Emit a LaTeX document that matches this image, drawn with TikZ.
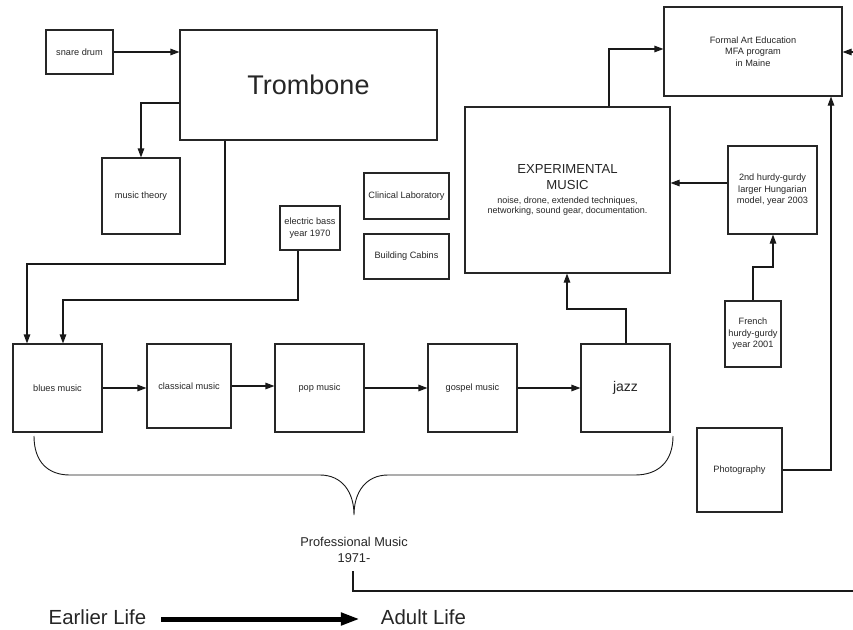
\documentclass[tikz,border=0pt]{standalone}
\usepackage{fontspec}
\setmainfont{Liberation Sans}
\usetikzlibrary{arrows.meta,calc}
\begin{document}
\begin{tikzpicture}[x=1pt,y=-1pt,
  box/.style={draw=black!85, line width=1.1pt, inner sep=0pt, align=center,
    text=black!85, font=\fontsize{9.2}{11.5}\selectfont},
  conn/.style={draw=black!90, line width=1.1pt},
  arr/.style={conn, -{Triangle[length=9pt,width=6.5pt]}},
  lbl/.style={inner sep=0pt, align=center, text=black!85}
]
\useasboundingbox (0,0) rectangle (853,629);
\clip (0,0) rectangle (853,629);
\fill[white] (0,0) rectangle (853,629);

% boxes
\node[box, minimum width=67pt, minimum height=44pt] (snare) at (79.5,52) {snare drum};
\node[box, minimum width=257pt, minimum height=110pt, font=\fontsize{27}{32}\selectfont] (trombone) at (308.5,85) {Trombone};
\node[box, minimum width=78pt, minimum height=76pt] (theory) at (141,196) {music theory};
\node[box, minimum width=60pt, minimum height=44pt] (ebass) at (310,228) {electric bass\\year 1970};
\node[box, minimum width=85pt, minimum height=46pt] (clinical) at (406.5,196) {Clinical Laboratory};
\node[box, minimum width=85pt, minimum height=45pt] (cabins) at (406.5,256.5) {Building Cabins};
\node[box, minimum width=89pt, minimum height=88pt] (blues) at (57.5,388) {blues music};
\node[box, minimum width=84pt, minimum height=84pt] (classical) at (189,386) {classical music};
\node[box, minimum width=89pt, minimum height=88pt] (pop) at (319.5,388) {pop music};
\node[box, minimum width=89pt, minimum height=88pt] (gospel) at (472.5,388) {gospel music};
\node[box, minimum width=89pt, minimum height=88pt, font=\fontsize{14}{16}\selectfont] (jazz) at (625.5,388) {jazz};
\node[box, minimum width=205pt, minimum height=166pt, font=\fontsize{9}{10.7}\selectfont] (exp) at (567.5,190)
  {\fontsize{13.1}{15}\selectfont EXPERIMENTAL\\[5.5pt]\fontsize{13.1}{15}\selectfont MUSIC\\[3pt]noise, drone, extended techniques,\\networking, sound gear, documentation.};
\node[box, minimum width=178pt, minimum height=89pt] (formal) at (753,51.5) {Formal Art Education\\MFA program\\in Maine};
\node[box, minimum width=89pt, minimum height=88pt] (hurdy) at (772.5,190) {2nd hurdy-gurdy\\larger Hungarian\\model, year 2003};
\node[box, minimum width=56pt, minimum height=66pt] (french) at (753,334) {French\\hurdy-gurdy\\year 2001};
\node[box, minimum width=85pt, minimum height=84pt] (photo) at (739.5,470) {Photography};

% labels
\node[lbl, font=\fontsize{12.8}{16}\selectfont] (pm) at (354,550) {Professional Music\\1971-};
\node[lbl, font=\fontsize{20.4}{24}\selectfont] (earlier) at (97.5,617) {Earlier Life};
\node[lbl, font=\fontsize{20.4}{24}\selectfont] (adult) at (423.5,617) {Adult Life};
\coordinate (pmline) at (353,571);

% connectors
\draw[arr] (snare.east) -- (snare.east -| trombone.west);
\draw[arr] ([yshift=-18pt]trombone.west) -| (theory.north);
\draw[arr] (225,0 |- trombone.south) |- (27,264) -- (27,0 |- blues.north);
\draw[arr] (298,0 |- ebass.south) |- (63,300) -- (63,0 |- blues.north);
\draw[arr] (blues.east) -- (blues.east -| classical.west);
\draw[arr] (classical.east) -- (classical.east -| pop.west);
\draw[arr] (pop.east) -- (pop.east -| gospel.west);
\draw[arr] (gospel.east) -- (gospel.east -| jazz.west);
\draw[arr] (626,0 |- jazz.north) |- (567,309) -- (567,0 |- exp.south);
\draw[arr] (609,0 |- exp.north) |- (formal.west |- 0,49);
\draw[arr] (hurdy.west |- 0,183) -- (exp.east |- 0,183);
\draw[arr] (753,0 |- french.north) |- (773,267) -- (773,0 |- hurdy.south);
\draw[arr] (photo.east) -| (831,0 |- formal.south);
\draw[arr] (pmline) |- (872,591) |- (formal.east |- 0,52);

% brace
\draw[conn, line width=0.9pt] (34,436) .. controls (34,462) and (48,475) .. (70,475) -- (320,475)
  .. controls (342,475) and (354,492) .. (354,515)
  .. controls (354,492) and (366,475) .. (388,475) -- (635,475)
  .. controls (658,475) and (673,462) .. (673,436);

% timeline arrow
\draw[line width=5pt, -{Triangle[length=19pt,width=12pt]}] ([xshift=15pt,yshift=-2pt]earlier.east) -- ([xshift=-21pt,yshift=-2pt]adult.west);
\end{tikzpicture}
\end{document}
